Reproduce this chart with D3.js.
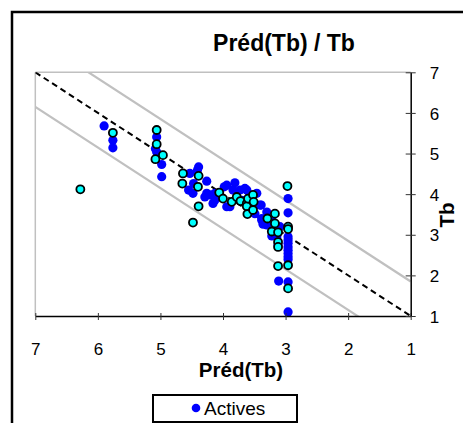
<!DOCTYPE html>
<html>
<head>
<meta charset="utf-8">
<script src="https://cdn.jsdelivr.net/npm/d3@7"></script>
<style>
  body { margin: 0; background: #fff; }
  svg { font-family: Arial, "Liberation Sans", sans-serif; }
</style>
</head>
<body>
<svg id="chart" width="463" height="423"></svg>
<script>
const activesPred = [5.90, 5.76, 5.76, 5.06, 5.06, 5.08, 4.98, 4.98, 4.39, 4.41, 4.53, 4.47, 4.55, 4.48,
  4.26, 4.26, 4.21, 4.29, 4.13, 4.16, 4.13, 3.98, 3.94, 3.81, 3.84, 3.73, 3.65, 3.62, 3.46, 3.89,
  3.94, 3.41, 3.39, 3.30, 3.38, 3.38, 3.36, 3.30, 3.22, 3.22, 3.09, 3.12, 3.14, 3.11, 2.96, 2.96,
  2.96, 2.96, 2.96, 2.96, 2.96, 2.96, 2.96, 2.96, 2.96, 2.96, 3.49, 3.55, 3.70, 3.58, 4.05];
const activesObs = [5.68, 5.33, 5.14, 5.41, 5.04, 5.12, 4.73, 4.43, 4.67, 4.58, 4.51, 4.26, 4.10, 4.02,
  4.32, 4.02, 3.98, 3.93, 3.85, 3.77, 4.02, 4.18, 4.22, 4.28, 4.10, 4.10, 4.14, 4.10, 4.02, 3.69,
  3.69, 3.73, 3.73, 3.56, 3.40, 3.36, 3.26, 3.24, 3.36, 2.97, 3.20, 2.75, 2.95, 1.86, 3.89, 3.54,
  2.95, 2.87, 2.79, 2.70, 2.62, 2.54, 2.46, 2.39, 1.84, 1.10, 3.52, 3.60, 3.85, 3.95, 3.95];

const testPred = [6.28, 5.76, 5.06, 5.06, 5.08, 4.96, 4.64, 4.65, 4.39, 4.40, 4.39, 4.48, 4.06, 4.00,
  3.86, 3.78, 3.72, 3.62, 3.62, 3.60, 3.61, 3.52, 3.51, 3.52, 3.29, 3.17, 3.17, 3.22, 3.12, 3.12,
  3.12, 3.12, 2.97, 2.96, 2.96, 2.96, 2.96];
const testObs = [4.12, 5.51, 5.58, 5.23, 4.86, 4.96, 4.51, 4.26, 4.45, 4.18, 3.70, 3.30, 4.04, 3.89,
  3.81, 3.93, 3.83, 3.77, 3.70, 3.89, 3.51, 3.98, 3.81, 3.61, 3.40, 3.52, 3.28, 3.08, 3.06, 2.82,
  2.70, 2.23, 4.20, 3.20, 3.14, 2.25, 1.68];

const ticks = [7, 6, 5, 4, 3, 2, 1];
const bandOffset = 0.85;   // grey band either side of y = x

const svg = d3.select("#chart");

// outer frame, runs off the right and bottom of the picture
svg.append("rect")
  .attr("x", 12).attr("y", 12).attr("width", 480).attr("height", 440)
  .attr("fill", "none").attr("stroke", "#000").attr("stroke-width", 2.5);

const x = d3.scaleLinear().domain([7, 1]).range([35.3, 410.7]);
const y = d3.scaleLinear().domain([1, 7]).range([316, 72.3]);

// plot borders (grey top / left)
svg.append("line").attr("x1", x(7)).attr("x2", x(1)).attr("y1", y(7)).attr("y2", y(7))
  .attr("stroke", "#c0c0c0").attr("stroke-width", 1.5);
svg.append("line").attr("x1", x(7)).attr("x2", x(7)).attr("y1", y(7)).attr("y2", y(1))
  .attr("stroke", "#c0c0c0").attr("stroke-width", 1.5);

const plot = svg.append("g");
svg.append("clipPath").attr("id", "clip")
  .append("rect").attr("x", x(7)).attr("y", y(7)).attr("width", x(1) - x(7)).attr("height", y(1) - y(7));

// grey band lines and the identity line
const lines = plot.append("g").attr("clip-path", "url(#clip)");
[bandOffset, -bandOffset].forEach(off => {
  lines.append("line")
    .attr("x1", x(7)).attr("y1", y(7 + off))
    .attr("x2", x(1)).attr("y2", y(1 + off))
    .attr("stroke", "#c0c0c0").attr("stroke-width", 2.2);
});
lines.append("line")
  .attr("x1", x(7)).attr("y1", y(7)).attr("x2", x(1)).attr("y2", y(1))
  .attr("stroke", "#000").attr("stroke-width", 2).attr("stroke-dasharray", "6,4");

// axes
const fmt = d3.format("d");
const xAxis = svg.append("g")
  .attr("transform", `translate(0,${y(1)})`)
  .call(d3.axisBottom(x).tickValues(ticks).tickFormat(fmt).tickSizeOuter(0));
xAxis.select(".domain").attr("stroke-width", 1.5);
xAxis.selectAll(".tick line").attr("y1", -3).attr("y2", 4).attr("stroke", "#333");
xAxis.selectAll(".tick text").attr("y", 39).attr("dy", null)
  .attr("font-size", 17).attr("font-family", null).attr("fill", "#000");

const yAxis = svg.append("g")
  .attr("transform", `translate(${x(1)},0)`)
  .call(d3.axisRight(y).tickValues(ticks).tickFormat(fmt).tickSizeOuter(0));
yAxis.select(".domain").attr("stroke-width", 1.5);
yAxis.selectAll(".tick line").attr("x1", -5).attr("x2", 5).attr("stroke", "#333");
yAxis.selectAll(".tick text").attr("x", 19).attr("dy", "0.36em")
  .attr("font-size", 17).attr("font-family", null).attr("fill", "#000");

// points: actives first, test set on top
plot.append("g").selectAll("circle")
  .data(d3.range(activesPred.length))
  .join("circle")
    .attr("cx", i => x(activesPred[i]))
    .attr("cy", i => y(activesObs[i]))
    .attr("r", 4.6)
    .attr("fill", "#0000ff");

plot.append("g").selectAll("circle")
  .data(d3.range(testPred.length))
  .join("circle")
    .attr("cx", i => x(testPred[i]))
    .attr("cy", i => y(testObs[i]))
    .attr("r", 4)
    .attr("fill", "#00ffff")
    .attr("stroke", "#000")
    .attr("stroke-width", 1.8);

// titles
svg.append("text").attr("x", 284).attr("y", 51).attr("text-anchor", "middle")
  .attr("font-size", 23).attr("font-weight", "bold").text("Préd(Tb) / Tb");
svg.append("text").attr("x", 241).attr("y", 377).attr("text-anchor", "middle")
  .attr("font-size", 20.5).attr("font-weight", "bold").text("Préd(Tb)");
svg.append("text").attr("transform", "translate(454,215) rotate(-90)").attr("text-anchor", "middle")
  .attr("font-size", 20.5).attr("font-weight", "bold").text("Tb");

// legend
const legend = svg.append("g");
legend.append("rect").attr("x", 153).attr("y", 395).attr("width", 144).attr("height", 27)
  .attr("fill", "#fff").attr("stroke", "#000").attr("stroke-width", 2);
legend.append("circle").attr("cx", 196).attr("cy", 408).attr("r", 4.3).attr("fill", "#0000ff");
legend.append("text").attr("x", 204).attr("y", 415).attr("font-size", 19).text("Actives");
</script>
</body>
</html>
